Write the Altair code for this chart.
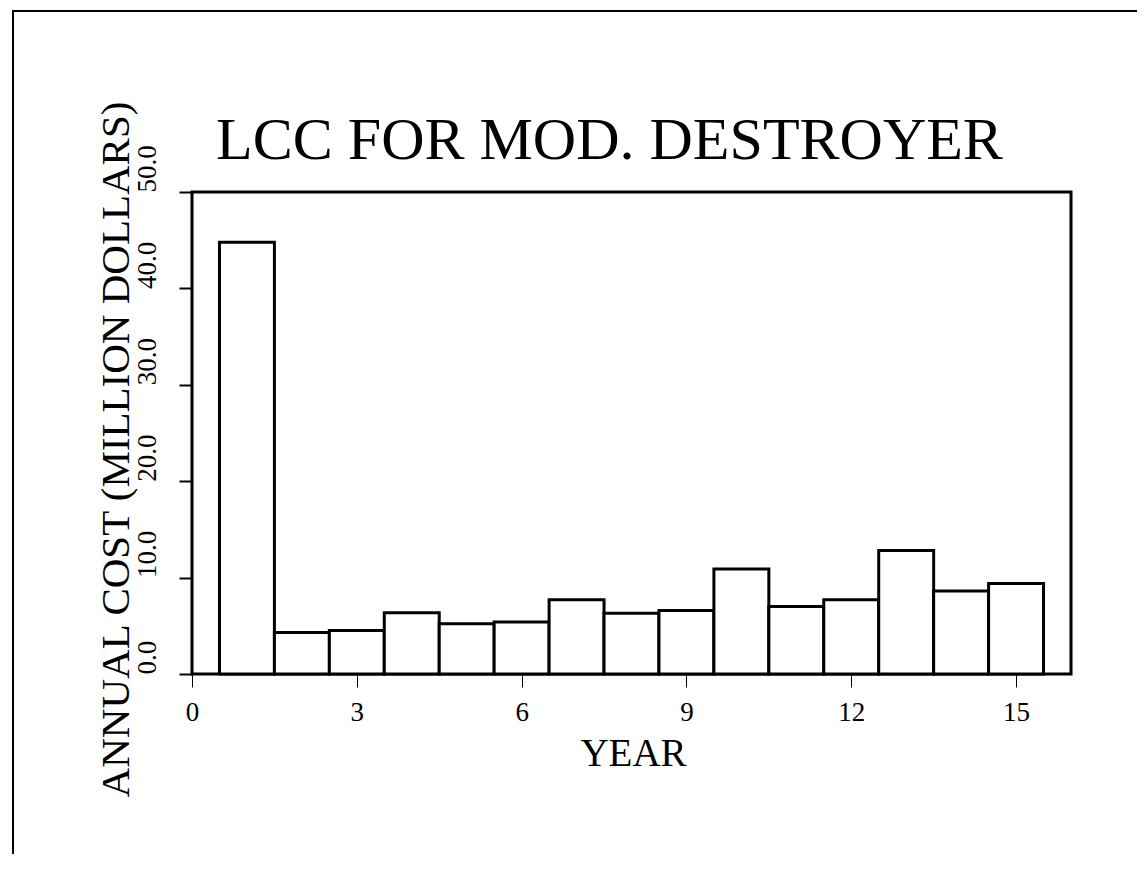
import altair as alt
import pandas as pd

years = list(range(1, 16))
cost = [44.8, 4.3, 4.5, 6.35, 5.2, 5.4, 7.7, 6.3, 6.6, 10.9, 7.0, 7.7, 12.8, 8.6, 9.4]
x_ticks = [0, 3, 6, 9, 12, 15]
y_ticks = [0, 10, 20, 30, 40, 50]

df = pd.DataFrame({"year": years, "cost": cost})

FONT = "Liberation Serif"

bars = alt.Chart(df).transform_calculate(
    x0="datum.year - 0.5", x1="datum.year + 0.5"
).mark_rect(fill="white", stroke="black", strokeWidth=3).encode(
    x=alt.X("x0:Q",
            scale=alt.Scale(domain=[0, 16], nice=False, zero=False),
            axis=alt.Axis(values=x_ticks, format="d", title="YEAR",
                          domain=False, grid=False,
                          tickSize=13, tickWidth=1, tickColor="black",
                          labelFont=FONT, labelFontSize=27, labelColor="black",
                          labelPadding=33, labelBaseline="alphabetic",
                          labelFlush=False,
                          titleFont=FONT, titleFontSize=39, titleFontWeight="normal",
                          titleColor="black", titleX=441, titleY=91,
                          titleBaseline="alphabetic", titleAlign="center")),
    x2="x1:Q",
    y=alt.Y("cost:Q",
            scale=alt.Scale(domain=[0, 50], nice=False),
            axis=alt.Axis(values=y_ticks, format=".1f",
                          title="ANNUAL COST (MILLION DOLLARS)",
                          domain=False, grid=False,
                          tickSize=13, tickWidth=2, tickColor="black",
                          labelFont=FONT, labelFontSize=27, labelColor="black",
                          labelAngle=270, labelAlign="left",
                          labelBaseline="alphabetic", labelPadding=24,
                          labelFlush=False,
                          titleFont=FONT, titleFontSize=41, titleFontWeight="normal",
                          titleColor="black", titleAngle=270, titleX=-64, titleY=257,
                          titleAlign="center", titleBaseline="alphabetic")),
    y2=alt.datum(0),
)

frame_data = alt.Data(values=[{"k": 1}])
left_rule = alt.Chart(frame_data).mark_rule(color="black", strokeWidth=2).encode(
    x=alt.value(-179), y=alt.value(-182), y2=alt.value(700)
)
top_rule = alt.Chart(frame_data).mark_rule(color="black", strokeWidth=2).encode(
    x=alt.value(-179), x2=alt.value(953), y=alt.value(-181)
)

chart = alt.layer(bars, left_rule, top_rule).properties(
    width=879, height=482,
    background="white",
    title=alt.TitleParams("LCC FOR MOD. DESTROYER", font=FONT, fontSize=60,
                          fontWeight="normal", color="black", anchor="middle",
                          dx=-22, dy=242, offset=32, baseline="alphabetic"),
    padding={"left": 184, "top": 184, "right": 66, "bottom": 180},
    autosize=alt.AutoSizeParams(type="none"),
).configure_view(stroke="black", strokeWidth=3)

chart.save("out.html", embed_options={"renderer": "svg", "actions": False})
